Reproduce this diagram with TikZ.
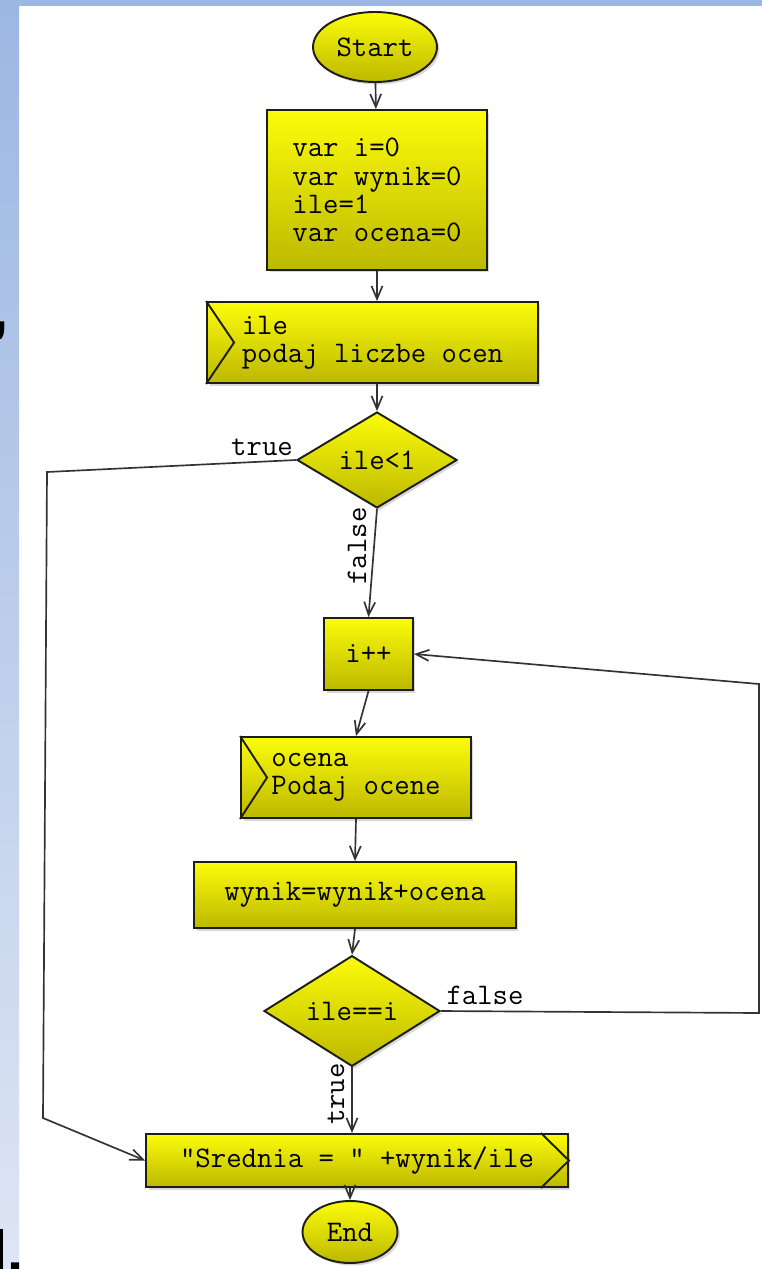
\documentclass[tikz,border=0pt]{standalone}
\usepackage{fontspec}
\setmainfont{Liberation Serif}
\newfontfamily\slidefont{Liberation Sans}
\usetikzlibrary{shapes.geometric,arrows.meta,shadows}

\definecolor{flowtop}{RGB}{252,252,10}
\definecolor{flowbot}{RGB}{188,184,0}
\definecolor{boxline}{RGB}{30,30,25}
\definecolor{linegray}{RGB}{50,50,55}
\definecolor{slideblue}{RGB}{156,183,226}
\definecolor{slidepale}{RGB}{222,229,244}

\newcommand\flowfont{\ttfamily\fontsize{17}{16}\selectfont}

\tikzset{
  procbox/.style={rectangle, draw=boxline, line width=1.1pt,
    top color=flowtop, bottom color=flowbot, inner sep=0pt,
    drop shadow={shadow xshift=0.05cm, shadow yshift=-0.05cm, opacity=0.3},
    font=\flowfont, text=black},
  terminal/.style={procbox, ellipse},
  decision/.style={procbox, diamond},
  flowline/.style={draw=linegray, line width=0.95pt,
    -{Straight Barb[length=0.26cm,width=0.22cm]}},
  lbl/.style={font=\flowfont, text=black, inner sep=0pt},
  chevron/.style={draw=boxline, line width=1.1pt}
}

\begin{document}
\begin{tikzpicture}[x=0.02cm,y=-0.02cm]
  \useasboundingbox (0,0) rectangle (762,1269);
  \clip (0,0) rectangle (762,1269);
  \fill[white] (0,0) rectangle (762,1269);
  \fill[slideblue] (0,0) rectangle (762,6);
  \shade[top color=slideblue, bottom color=slidepale] (0,0) rectangle (19,1269);
  \node[anchor=base west, inner sep=0pt, font=\slidefont\bfseries\fontsize{33}{33}\selectfont] (comma) at (-8,330) {,};
  \node[anchor=base west, inner sep=0pt, font=\slidefont\bfseries\fontsize{33}{33}\selectfont] (ldot) at (-9,1271) {l.};

  \node[terminal, minimum width=2.48cm, minimum height=1.4cm] (start) at (375,47) {Start};
  \node[procbox, minimum width=4.4cm, minimum height=3.2cm, align=left] (init) at (377,190)
    {var i=0\\var wynik=0\\ile=1\\var ocena=0};
  \node[procbox, minimum width=6.62cm, minimum height=1.62cm, align=left] (getile) at (372.5,342.5)
    {ile\\podaj liczbe ocen};
  \node[decision, minimum width=3.2cm, minimum height=1.92cm] (check1) at (377,460) {ile<1};
  \node[procbox, minimum width=1.78cm, minimum height=1.44cm] (inc) at (368.5,654) {i++};
  \node[procbox, minimum width=4.6cm, minimum height=1.62cm, align=left] (getocena) at (356,777.5)
    {ocena\\Podaj ocene};
  \node[procbox, minimum width=6.44cm, minimum height=1.32cm] (sum) at (355,895) {wynik=wynik+ocena};
  \node[decision, minimum width=3.52cm, minimum height=2.08cm] (check2) at (352,1011) {ile==i};
  \node[procbox, minimum width=8.44cm, minimum height=1.06cm] (show) at (357,1160.5)
    {"Srednia = " +wynik/ile\hspace{0.2cm}};
  \node[terminal, minimum width=1.9cm, minimum height=1.24cm] (end) at (350,1232) {End};

  \draw[chevron] (getile.north west) -- ([xshift=0.56cm]getile.west) -- (getile.south west);
  \draw[chevron] (getocena.north west) -- ([xshift=0.54cm]getocena.west) -- (getocena.south west);
  \draw[chevron] ([xshift=-0.56cm]show.north east) -- (show.east) -- ([xshift=-0.56cm]show.south east);

  \coordinate (c1) at (47,472);
  \coordinate (c2) at (43,1118);
  \coordinate (c3) at (759,1013);
  \coordinate (c4) at (759,684);

  \draw[flowline] (start) -- (init);
  \draw[flowline] (init.south) -- (init.south |- getile.north);
  \draw[flowline] (getile.south -| check1.north) -- (check1.north);
  \draw[flowline] (check1.south) -- (inc.north);
  \draw[flowline] (inc.south) -- (getocena.north);
  \draw[flowline] (getocena.south) -- (sum.north);
  \draw[flowline] (sum.south) -- (check2.north);
  \draw[flowline] (check2.south) -- (check2.south |- show.north);
  \draw[flowline] (show.south -| end.north) -- (end.north);
  \draw[flowline] (check1.west) -- (c1) -- (c2) -- (show.west);
  \draw[flowline] (check2.east) -- (c3) -- (c4) -- (inc.east);

  \node[lbl] (true1) at (262,447) {true};
  \node[lbl, rotate=90] (false1) at (357,546) {false};
  \node[lbl] (false2) at (485,995) {false};
  \node[lbl, rotate=90] (true2) at (336,1094) {true};
\end{tikzpicture}
\end{document}
